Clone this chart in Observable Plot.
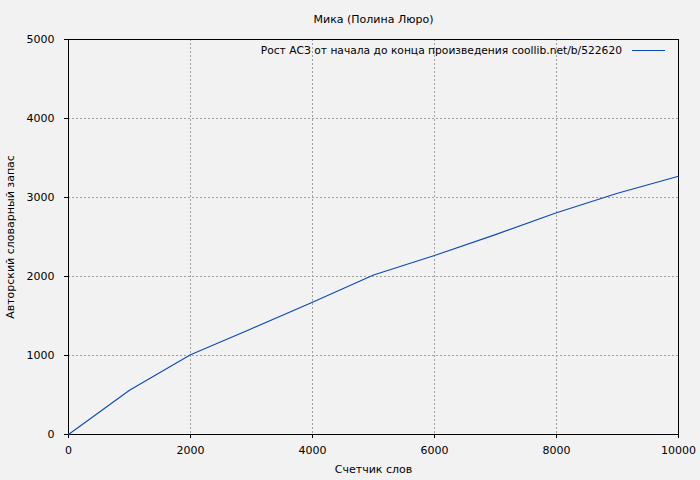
<!DOCTYPE html>
<html>
<head>
<meta charset="utf-8">
<script src="https://cdn.jsdelivr.net/npm/d3@7"></script>
<script src="https://cdn.jsdelivr.net/npm/@observablehq/plot@0.6"></script>
<style>
  html, body { margin: 0; padding: 0; background: #f2f2f2; }
  svg { display: block; }
</style>
</head>
<body>
<div id="chart"></div>
<script>
const title = "Мика (Полина Люро)";
const xLabel = "Счетчик слов";
const yLabel = "Авторский словарный запас";
const legendLabel = "Рост АСЗ от начала до конца произведения coollib.net/b/522620";

const words = [0, 1000, 2000, 3000, 4000, 5000, 6000, 7000, 8000, 9000, 10000];
const vocab = [0, 560, 1010, 1340, 1675, 2020, 2266, 2530, 2806, 3055, 3270];
const xTicks = [0, 2000, 4000, 6000, 8000, 10000];
const yTicks = [0, 1000, 2000, 3000, 4000, 5000];

const data = words.map((w, i) => ({words: w, vocab: vocab[i]}));

const font = "DejaVu Sans, sans-serif";
const lineColor = "#0a4ab2";
const gridStyle = {stroke: "#a0a0a0", strokeOpacity: 1, strokeDasharray: "2,2"};

const chart = Plot.plot({
  width: 700,
  height: 480,
  marginLeft: 68,
  marginRight: 22,
  marginTop: 39,
  marginBottom: 46,
  style: {background: "#f2f2f2", fontFamily: font, fontSize: "11px", color: "#000"},
  x: {domain: [0, 10000]},
  y: {domain: [0, 5000]},
  marks: [
    Plot.gridX(xTicks.slice(1, -1), gridStyle),
    Plot.gridY(yTicks.slice(1, -1), gridStyle),
    Plot.axisX(xTicks, {tickSize: 4, tickPadding: 8, label: null, tickFormat: d => String(d), fontSize: 11, stroke: "#000"}),
    Plot.axisY(yTicks, {tickSize: 4, tickPadding: 10, label: null, tickFormat: d => String(d), fontSize: 11, stroke: "#000"}),
    Plot.frame({stroke: "#000", strokeWidth: 1}),
    Plot.line(data, {x: "words", y: "vocab", stroke: lineColor, strokeWidth: 1.1}),
    Plot.text([title], {frameAnchor: "top", dy: -20, fontSize: 11, lineAnchor: "middle"}),
    Plot.text([xLabel], {frameAnchor: "bottom", dy: 35, fontSize: 11, lineAnchor: "middle"}),
    Plot.text([yLabel], {frameAnchor: "left", dx: -58, rotate: -90, textAnchor: "middle", fontSize: 11, lineAnchor: "middle"})
  ]
});

// legend (decoration)
const svg = d3.select(chart);
svg.append("text")
  .attr("x", 622).attr("y", 51)
  .attr("text-anchor", "end")
  .attr("dominant-baseline", "middle")
  .attr("font-family", font).attr("font-size", 10.7)
  .attr("fill", "#000")
  .text(legendLabel);
svg.append("line")
  .attr("x1", 632).attr("x2", 665)
  .attr("y1", 50.5).attr("y2", 50.5)
  .attr("stroke", lineColor).attr("stroke-width", 1);

document.getElementById("chart").appendChild(chart);
</script>
</body>
</html>
